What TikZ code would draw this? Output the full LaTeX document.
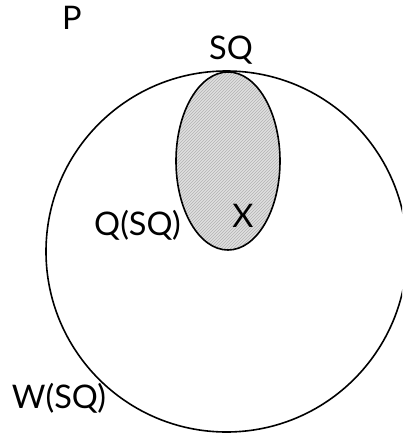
\documentclass[tikz,border=0pt]{standalone}
\usepackage{fontspec}
\setmainfont{Lato}
\usetikzlibrary{patterns}
\tikzset{
  lbl/.style={inner sep=0pt, font=\fontsize{32.5}{32.5}\selectfont},
  outline/.style={draw=black, line width=1.6pt}
}
\begin{document}
\begin{tikzpicture}[x=1pt,y=-1pt]
\useasboundingbox (0,0) rectangle (402,434);
\begin{scope}
\clip (0,0) rectangle (402,434);
\draw[outline] (226.5,251.5) circle[radius=180.5];
\end{scope}
\path[fill=gray!25] (228,161) ellipse[x radius=52, y radius=89];
\path[pattern=north east lines, pattern color=gray!60] (228,161) ellipse[x radius=52, y radius=89];
\draw[outline] (228,161) ellipse[x radius=52, y radius=89];
\node[lbl, anchor=base] (p) at (72,29) {P};
\node[lbl, anchor=base] (sq) at (231,59) {SQ};
\node[lbl, anchor=base] (qsq) at (137.5,235) {Q(SQ)};
\node[lbl, anchor=base] (x) at (243,227) {X};
\node[lbl, anchor=base] (wsq) at (59,408) {W(SQ)};
\end{tikzpicture}
\end{document}
